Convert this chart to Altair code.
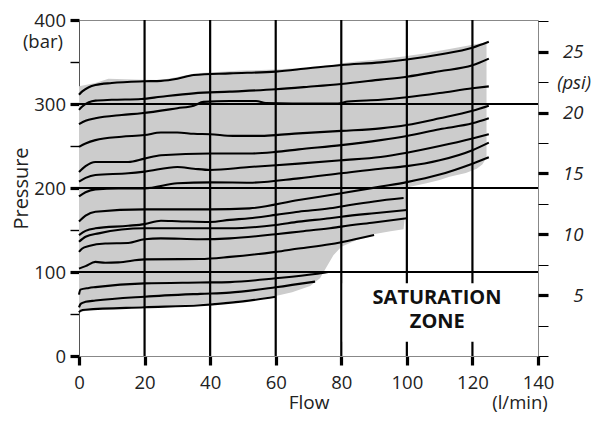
import altair as alt
import pandas as pd

# ---------------- data ----------------
FLOW_TICKS = [0, 10, 20, 30, 40, 50, 60, 70, 80, 90, 100, 110, 120, 130, 140]
BAR_TICKS = [0, 50, 100, 150, 200, 250, 300, 350, 400]
PSI_TICKS = [0, 2.5, 5, 7.5, 10, 12.5, 15, 17.5, 20, 22.5, 25, 27.5]
PSI_TOP = 27.6

H_GRID = [100, 200, 300]
V_GRID = [20, 40, 60, 80, 100, 120]

CURVE_1 = [(0, 311), (1, 315), (3, 320), (5, 322.6), (10, 325), (20, 327), (25, 327.5), (30, 330), (35, 334.5),
           (46, 336.5), (60, 338.5), (70, 342.5), (80, 346.4), (92, 349.6), (100, 353), (110, 359), (120, 367), (125, 374)]
CURVE_2 = [(0, 293), (1, 297), (3, 302), (5, 304), (10, 305), (19, 306), (25, 308.7), (35, 312.7), (46, 314.7),
           (60, 317.5), (70, 320.5), (80, 323.8), (92, 329), (100, 332.5), (110, 339), (120, 346), (125, 354)]
CURVE_3 = [(0, 276), (2, 280), (5, 283), (13, 287), (19, 289), (30, 295), (35, 298), (38, 302.5), (46, 303.5),
           (54, 303.5), (57, 301), (65, 300.5), (79, 300.5), (82, 303), (92, 305), (100, 308), (110, 313),
           (120, 318.7), (125, 321)]
CURVE_4 = [(0, 249), (2, 253), (5, 257), (13, 261), (20, 263), (25, 266), (30, 266), (35, 264.5), (40, 264),
           (47, 262), (55, 262), (60, 263), (67, 265), (80, 268), (92, 271), (100, 275), (110, 283), (120, 292), (125, 298)]
CURVE_5 = [(0, 219), (2, 226), (5, 231), (15, 231), (20, 235), (25, 239), (40, 241), (52, 241), (60, 243),
           (67, 246), (80, 251), (92, 257), (100, 262), (110, 270), (120, 277), (125, 283)]
CURVE_6 = [(0, 207.5), (2, 212), (5, 215.5), (15, 217.5), (20, 219.5), (30, 225), (35, 223), (40, 221.5),
           (52, 225), (67, 229), (80, 233), (92, 237), (100, 242), (110, 250), (120, 259), (125, 264)]
CURVE_7 = [(0, 190), (2, 195), (5, 198.4), (12, 199.6), (20, 199.6), (30, 205.6), (40, 206.7), (52, 206.3),
           (67, 211.5), (80, 217.5), (92, 223), (100, 226), (110, 233), (120, 245), (125, 254)]
CURVE_8 = [(0, 160), (2, 167), (5, 171.8), (20, 174.6), (40, 174.6), (52, 175.8), (67, 185.7), (80, 193.7),
           (92, 201.6), (100, 207), (110, 216), (120, 229), (125, 236.5)]
CURVE_9 = [(0, 144), (2, 149), (5, 152), (15, 155), (20, 157), (25, 161), (30, 160.5), (40, 159.5), (46, 162),
           (52, 164), (60, 168), (67, 171.8), (76.5, 175.8), (80, 178), (90, 184), (99, 188)]
CURVE_10 = [(0, 136), (2, 142), (6, 146), (20, 152), (37, 152), (46, 152), (60, 156), (67, 160), (76.5, 164),
            (80, 165.8), (90, 170), (100, 173.8)]
CURVE_11 = [(0, 124), (1, 128), (3, 131), (8, 134), (15, 134.5), (20, 139), (25, 140), (37, 139), (46, 140),
            (60, 145), (67, 148), (76.5, 152), (80, 154), (90, 159), (100, 164)]
CURVE_12 = [(0, 104), (2, 107), (5, 112), (8, 111), (12, 111.5), (20, 115), (37, 115.5), (46, 118), (60, 124),
            (67, 128), (76.5, 133), (80, 135.5), (90, 144)]
CURVE_13 = [(0, 73), (0.4, 79), (3, 81), (5, 82), (20, 86.5), (37, 87.5), (46, 88), (60, 92.5), (72, 97.6), (76, 100)]
CURVE_14 = [(0, 58), (0.5, 62), (2, 64.5), (5, 66), (20, 70.6), (37, 74), (46, 75.5), (60, 81.8), (72, 88.5)]
CURVE_15 = [(0, 52), (0.5, 54), (2, 55), (20, 58), (37, 60.5), (50, 65), (60, 70.5)]

CURVES = [CURVE_1, CURVE_2, CURVE_3, CURVE_4, CURVE_5, CURVE_6, CURVE_7, CURVE_8,
          CURVE_9, CURVE_10, CURVE_11, CURVE_12, CURVE_13, CURVE_14, CURVE_15]

# grey operating envelope (lower / upper edge at the same flows)
ENV_FLOW = [0, 5, 9, 19, 25, 30, 35, 37, 46, 50, 60, 65, 70.5, 73.5, 75.5, 77.6, 80, 84.7, 89.8, 95, 99,
            99.6, 100, 101, 106, 110, 113, 118, 121.3, 123, 124.3]
ENV_LOW = [52, 56, 57, 59, 59.5, 60.5, 61.5, 62, 64.5, 66.5, 71.5, 76, 83.3, 92.5, 106, 120, 130, 138, 145,
           148.5, 151, 175, 200, 201.6, 205.6, 209.5, 213.5, 218, 223, 228, 236]
ENV_HIGH = [321, 325, 330, 329, 328.5, 332, 336, 337, 339, 339.8, 341, 342.3, 343.8, 344.8, 345.5, 346.4,
            348.4, 350.5, 352.5, 354.8, 356.5, 356.8, 357, 357.7, 360.5, 363.4, 365.5, 369, 371.4, 372.5, 373.5]

# saturation zone box (flow from, flow to, bar from, bar to)
SAT_BOX = [80.45, 139.8, 17, 86.5]
SAT_TEXT = ["SATURATION", "ZONE"]
SAT_FLOW = [109.2, 109.3]
SAT_BAR = [68.7, 40.8]

UNIT_TEXT = ["(bar)", "(l/min)"]
UNIT_FLOW = [-11, 134.5]
UNIT_BAR = [374, -56]

PSI_UNIT_TEXT = ["(psi)"]
PSI_UNIT_FLOW = [151.0]
PSI_UNIT_PSI = [22.4]

FONT = "Open Sans"
LABEL_COLOR = "#222222"

# ---------------- tables ----------------
curve_rows = []
for i, c in enumerate(CURVES):
    for f, p in c:
        curve_rows.append({"flow": f, "pressure": p, "curve": i + 1})
curves_df = pd.DataFrame(curve_rows)
env_df = pd.DataFrame({"flow": ENV_FLOW, "pressure": ENV_LOW, "high": ENV_HIGH})
hgrid_df = pd.DataFrame({"pressure": H_GRID})
vgrid_df = pd.DataFrame({"flow": V_GRID})
sat_df = pd.DataFrame({"flow": SAT_FLOW, "pressure": SAT_BAR, "text": SAT_TEXT})
unit_df = pd.DataFrame({"flow": UNIT_FLOW, "pressure": UNIT_BAR, "text": UNIT_TEXT})
psi_df = pd.DataFrame({"flow": PSI_UNIT_FLOW, "psi": PSI_UNIT_PSI, "text": PSI_UNIT_TEXT})

X = alt.X(
    "flow:Q",
    scale=alt.Scale(domain=[0, 140], nice=False, zero=False),
    axis=alt.Axis(
        values=FLOW_TICKS,
        labelExpr="datum.value % 20 === 0 ? datum.label : ''",
        labelOverlap=False,
        labelFlush=False,
        tickSize=9,
        tickColor="black",
        tickWidth={"condition": {"test": "datum.value % 20 === 0", "value": 3.2}, "value": 1.4},
        domainColor="#888888",
        domainWidth=1,
        labelPadding=8,
        grid=False,
        title="Flow",
        titleY=46,
        titleFontSize=19,
        titleBaseline="middle",
    ),
)
Y = alt.Y(
    "pressure:Q",
    scale=alt.Scale(domain=[0, 400], nice=False, zero=False),
    axis=alt.Axis(
        values=BAR_TICKS,
        labelExpr="datum.value % 100 === 0 ? datum.label : ''",
        labelOverlap=False,
        labelFlush=False,
        tickSize=9,
        tickColor="black",
        tickWidth={"condition": {"test": "datum.value % 100 === 0", "value": 3.2}, "value": 1.4},
        domainColor="#555555",
        domainWidth=1,
        labelPadding=4.5,
        grid=False,
        title="Pressure",
        titleX=-52,
        titleBaseline="alphabetic",
    ),
)

area = alt.Chart(env_df).mark_area(color="#cccccc", interpolate="linear").encode(
    x=X, y=Y, y2="high:Q"
)
hgrid = alt.Chart(hgrid_df).mark_rule(color="black", strokeWidth=2.2).encode(
    y=Y, x=alt.datum(0), x2=alt.datum(140)
)
vgrid = alt.Chart(vgrid_df).mark_rule(color="black", strokeWidth=2.2).encode(
    x=X, y=alt.datum(0), y2=alt.datum(400)
)
box = alt.Chart(pd.DataFrame({"a": [0]})).mark_rect(color="white").encode(
    x=alt.datum(SAT_BOX[0]), x2=alt.datum(SAT_BOX[1]),
    y=alt.datum(SAT_BOX[2]), y2=alt.datum(SAT_BOX[3]),
)
lines = alt.Chart(curves_df).mark_line(color="black", strokeWidth=2.1, interpolate="monotone").encode(
    x=X, y=Y, detail="curve:N", order="flow:Q"
)
sat_text = alt.Chart(sat_df).mark_text(
    font=FONT, fontSize=20, fontWeight="bold", color="#111111", baseline="middle", align="center"
).encode(x=X, y=Y, text="text:N")
unit_text = alt.Chart(unit_df).mark_text(
    font=FONT, fontSize=18.5, color=LABEL_COLOR, baseline="middle", align="center"
).encode(x=X, y=Y, text="text:N")

bar_layers = alt.layer(area, hgrid, vgrid, box, lines, sat_text, unit_text)

psi_layer = alt.Chart(psi_df).mark_text(
    font=FONT, fontSize=18.5, fontStyle="italic", color=LABEL_COLOR, baseline="middle", align="center"
).encode(
    x=X,
    y=alt.Y(
        "psi:Q",
        scale=alt.Scale(domain=[0, PSI_TOP], nice=False, zero=False),
        axis=alt.Axis(
            orient="right",
            values=PSI_TICKS,
            labelExpr="datum.value > 0 && datum.value % 5 === 0 ? datum.label : ''",
            labelOverlap=False,
            labelFlush=False,
            tickSize=10,
            tickColor="black",
            tickWidth={"condition": {"test": "datum.value % 5 === 0 && datum.value > 0", "value": 3.2}, "value": 1},
            domain=False,
            labelAlign="right",
            labelPadding=35,
            labelFontStyle="italic",
            grid=False,
            title=None,
        ),
    ),
    text="text:N",
)

chart = (
    alt.layer(bar_layers, psi_layer)
    .resolve_scale(y="independent")
    .properties(
        width=459,
        height=336,
        padding={"left": 71, "top": 12, "right": 53, "bottom": 57},
        autosize=alt.AutoSizeParams(type="none"),
    )
    .configure_view(stroke="#888888", strokeWidth=1)
    .configure_axis(
        labelFont=FONT,
        labelFontSize=18.5,
        labelColor=LABEL_COLOR,
        titleFont=FONT,
        titleFontSize=20,
        titleFontWeight="normal",
        titleColor=LABEL_COLOR,
    )
)

chart.save("out.html", embed_options={"renderer": "svg", "actions": False})
